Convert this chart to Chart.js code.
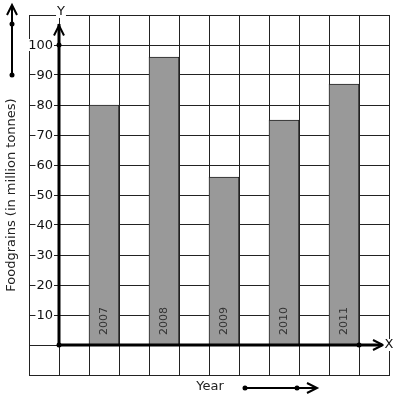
<!DOCTYPE html>
<html>
<head>
<meta charset="utf-8">
<script src="https://cdn.jsdelivr.net/npm/chart.js@4"></script>
<style>
    body { margin: 0; background: #fff; }
    canvas { display: block; }
</style>
</head>
<body>
<canvas id="foodChart" width="397" height="401"></canvas>
<script>
// Chart data
const slots = ['', '', '2007', '', '2008', '', '2009', '', '2010', '', '2011', ''];
const production = [null, null, 80, null, 96, null, 56, null, 75, null, 87, null];
const yTicks = [10, 20, 30, 40, 50, 60, 70, 80, 90, 100];

const FONT = '"DejaVu Sans", sans-serif';

function arrowHead(ctx, x, y, dir) {
    // open chevron, dir: 'up' or 'right'
    ctx.beginPath();
    if (dir === 'up') {
        ctx.moveTo(x - 5, y + 10);
        ctx.lineTo(x, y);
        ctx.lineTo(x + 5, y + 10);
    } else {
        ctx.moveTo(x - 10, y - 5);
        ctx.lineTo(x, y);
        ctx.lineTo(x - 10, y + 5);
    }
    ctx.stroke();
}

function dot(ctx, x, y) {
    ctx.beginPath();
    ctx.arc(x, y, 2.5, 0, Math.PI * 2);
    ctx.fill();
}

const axesPlugin = {
    id: 'axesPlugin',
    afterDraw(chart) {
        const ctx = chart.ctx;
        const xs = chart.scales.x;
        const ys = chart.scales.y;
        const axisX = (xs.getPixelForValue(0) + xs.getPixelForValue(1)) / 2;
        const axisY = ys.getPixelForValue(0);
        const lastX = (xs.getPixelForValue(10) + xs.getPixelForValue(11)) / 2;

        ctx.save();
        ctx.strokeStyle = '#000';
        ctx.fillStyle = '#000';

        // main axes
        ctx.lineWidth = 3;
        ctx.beginPath();
        ctx.moveTo(axisX, axisY);
        ctx.lineTo(axisX, ys.getPixelForValue(107));
        ctx.moveTo(axisX, axisY);
        ctx.lineTo(xs.right - 7, axisY);
        ctx.stroke();
        ctx.lineWidth = 2;
        arrowHead(ctx, axisX, ys.getPixelForValue(106.5), 'up');
        arrowHead(ctx, xs.right - 6, axisY, 'right');
        dot(ctx, axisX, ys.getPixelForValue(100));
        dot(ctx, axisX, axisY);
        dot(ctx, lastX, axisY);

        // tick labels with white background
        ctx.font = '13px ' + FONT;
        ctx.textAlign = 'right';
        ctx.textBaseline = 'middle';
        yTicks.forEach(v => {
            const y = ys.getPixelForValue(v);
            const w = ctx.measureText(String(v)).width;
            ctx.fillStyle = '#fff';
            ctx.fillRect(53 - w - 1, y - 6, w + 2, 12);
            ctx.fillStyle = '#111';
            ctx.fillText(String(v), 53, y + 1);
        });

        // axis letters
        ctx.textAlign = 'center';
        let w = ctx.measureText('Y').width;
        ctx.fillStyle = '#fff';
        ctx.fillRect(axisX + 2 - w / 2 - 1, 6, w + 2, 12);
        ctx.fillStyle = '#111';
        ctx.fillText('Y', axisX + 2, 12);
        w = ctx.measureText('X').width;
        ctx.fillStyle = '#fff';
        ctx.fillRect(389 - w / 2 - 1, axisY - 6, w + 2, 12);
        ctx.fillStyle = '#111';
        ctx.fillText('X', 389, axisY);

        // year labels inside bars
        ctx.font = '11px ' + FONT;
        ctx.fillStyle = '#333';
        const meta = chart.getDatasetMeta(0);
        meta.data.forEach((bar, i) => {
            if (production[i] === null) return;
            ctx.save();
            ctx.translate(bar.x, axisY - 10);
            ctx.rotate(-Math.PI / 2);
            ctx.textAlign = 'left';
            ctx.textBaseline = 'middle';
            ctx.fillText(slots[i], 0, 0);
            ctx.restore();
        });

        // axis titles
        ctx.font = '13px ' + FONT;
        ctx.fillStyle = '#222';
        ctx.save();
        ctx.translate(12, 195);
        ctx.rotate(-Math.PI / 2);
        ctx.textAlign = 'center';
        ctx.textBaseline = 'middle';
        ctx.fillText('Foodgrains (in million tonnes)', 0, 0);
        ctx.restore();
        ctx.textAlign = 'center';
        ctx.textBaseline = 'middle';
        ctx.fillText('Year', 210, 387);

        // decorative arrows
        ctx.strokeStyle = '#000';
        ctx.fillStyle = '#000';
        ctx.lineWidth = 2;
        ctx.beginPath();
        ctx.moveTo(12, 75);
        ctx.lineTo(12, 6);
        ctx.moveTo(245, 388);
        ctx.lineTo(316, 388);
        ctx.stroke();
        arrowHead(ctx, 12, 5, 'up');
        arrowHead(ctx, 317, 388, 'right');
        dot(ctx, 12, 24);
        dot(ctx, 12, 75);
        dot(ctx, 245, 388);
        dot(ctx, 297, 388);

        ctx.restore();
    }
};

new Chart(document.getElementById('foodChart'), {
    type: 'bar',
    data: {
        labels: slots,
        datasets: [{
            data: production,
            backgroundColor: '#999999',
            borderColor: '#222',
            borderWidth: 1,
            barPercentage: 1,
            categoryPercentage: 1
        }]
    },
    options: {
        responsive: false,
        animation: false,
        events: [],
        layout: {
            padding: { left: 29, top: 15, right: 8, bottom: 26 }
        },
        plugins: {
            legend: { display: false },
            tooltip: { enabled: false }
        },
        scales: {
            x: {
                grid: { color: '#222', lineWidth: 1, drawTicks: false, offset: true },
                border: { display: true, color: '#222', width: 1 },
                ticks: { display: false }
            },
            y: {
                min: -10,
                max: 110,
                ticks: { display: false, stepSize: 10 },
                grid: { color: '#222', lineWidth: 1, drawTicks: false },
                border: { display: true, color: '#222', width: 1 }
            }
        }
    },
    plugins: [axesPlugin]
});
</script>
</body>
</html>
